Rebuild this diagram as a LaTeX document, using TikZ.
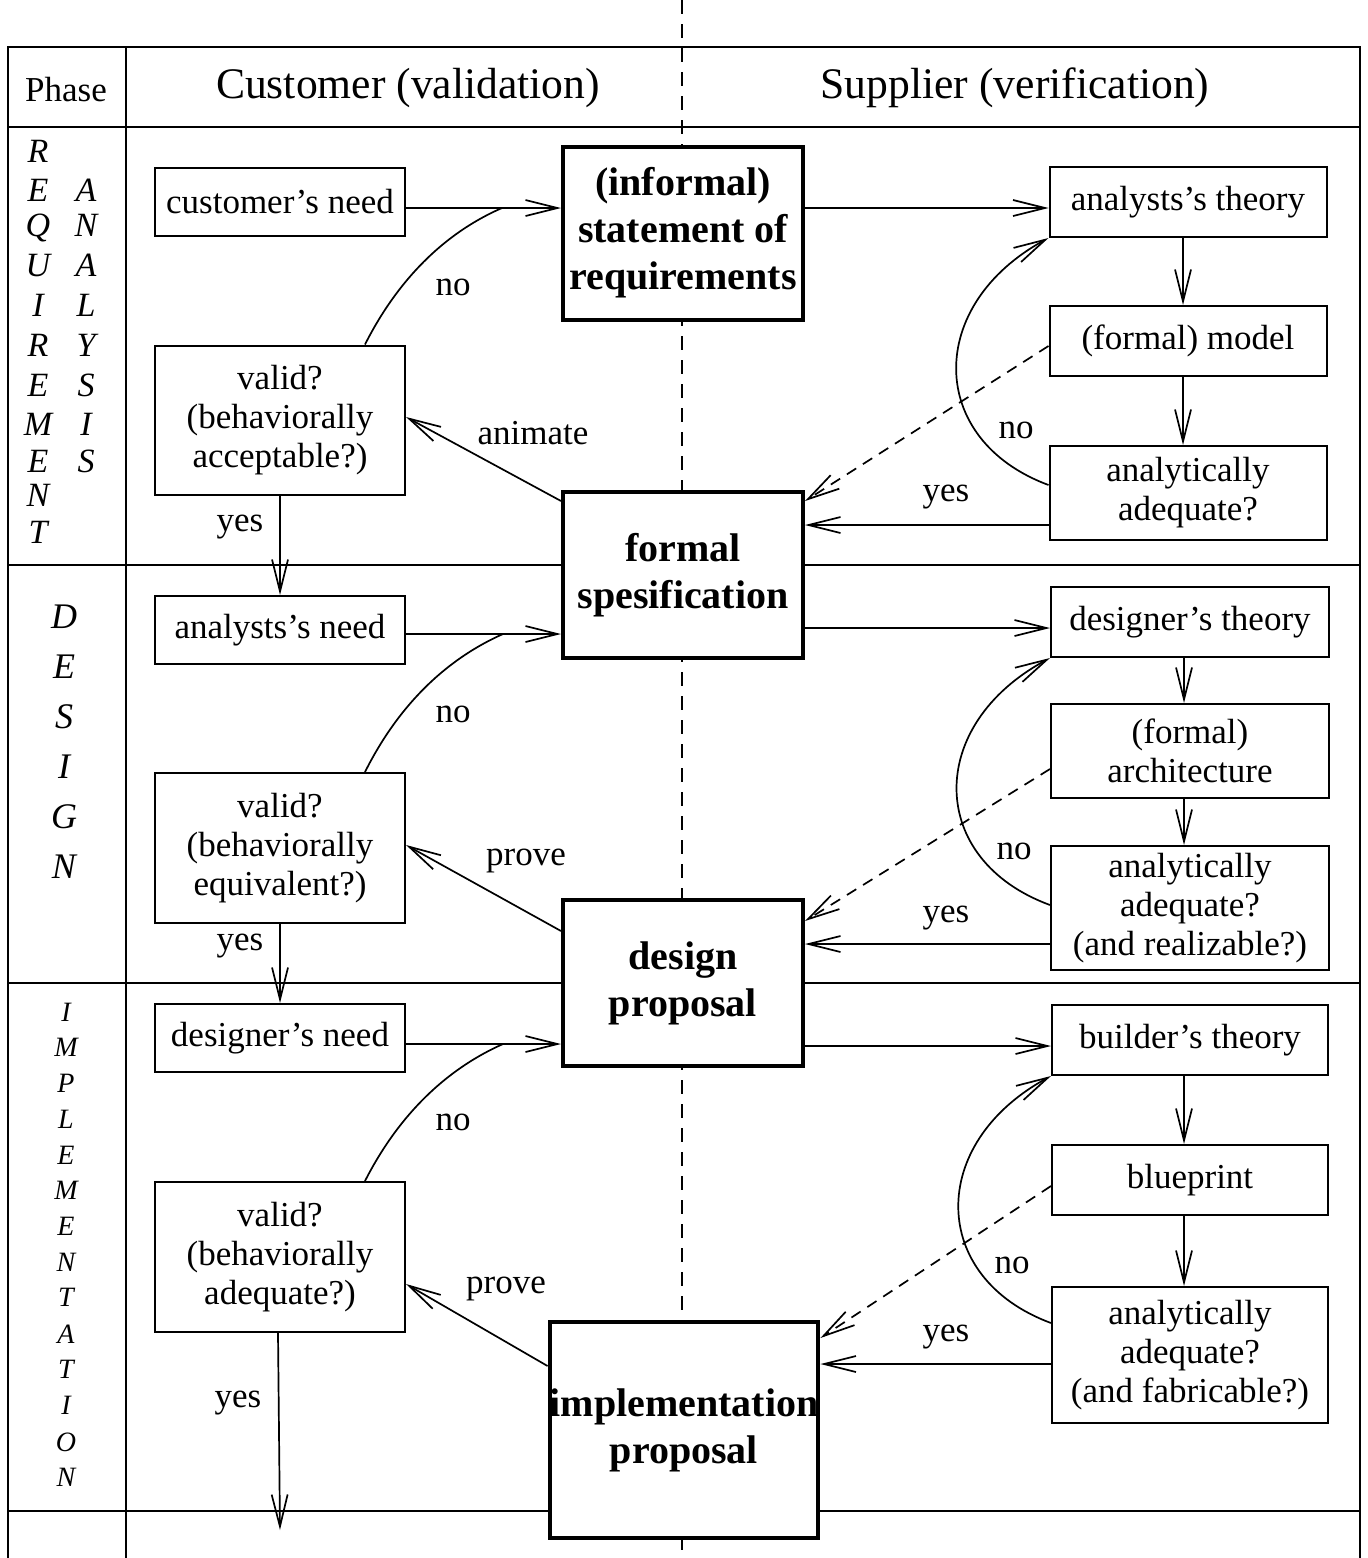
\documentclass[tikz,border=0pt]{standalone}
\usepackage{fontspec}
\setmainfont{Liberation Serif}
\usetikzlibrary{arrows.meta,calc}
\newcommand\fsN{\fontsize{17.5pt}{19.5pt}\selectfont}
\newcommand\fsH{\fontsize{21.8pt}{26pt}\selectfont}
\newcommand\fsB{\fontsize{20pt}{23.5pt}\selectfont\bfseries}
\begin{document}
\begin{tikzpicture}[x=0.5pt,y=-0.5pt,
  frame/.style={line width=1pt},
  vdash/.style={line width=0.75pt, dash pattern=on 7pt off 5pt},
  box/.style={draw, line width=1pt, fill=white, inner sep=0pt, align=center, font=\fsN},
  bigbox/.style={draw, line width=2pt, fill=white, inner sep=0pt, align=center, font=\fsB},
  conn/.style={line width=0.85pt},
  arr/.style={conn, -{Straight Barb[length=16pt,width=8pt]}},
  darr/.style={arr, dash pattern=on 5.5pt off 4pt},
  lab/.style={font=\fsN, inner sep=0pt},
  sideR/.style={font=\fontsize{17pt}{17pt}\selectfont\itshape, inner sep=0pt, text height=0.66em, text depth=0pt},
  sideD/.style={font=\fontsize{18pt}{18pt}\selectfont\itshape, inner sep=0pt, text height=0.66em, text depth=0pt},
  sideI/.style={font=\fontsize{14pt}{14pt}\selectfont\itshape, inner sep=0pt, text height=0.66em, text depth=0pt}]
\useasboundingbox (0,0) rectangle (1367,1558);
% frame and grid
\draw[frame] (8,1558) -- (8,47) -- (1360,47) -- (1360,1558);
\draw[frame] (126,47) -- (126,1558);
\foreach \y in {127,565,983,1511} \draw[frame] (8,\y) -- (1360,\y);
\draw[vdash] (682,0) -- (682,1558);
% headers
\node[font=\fsN] (phase) at (66,90) {Phase};
\node[font=\fsH] (cust) at (408,88) {Customer (validation)};
\node[font=\fsH] (supp) at (1015,88) {Supplier (verification)};
% side letters
\foreach \l/\y [count=\i] in {R/156,E/195,Q/230,U/270,I/310,R/350,E/390,M/429,E/466,N/500,T/537}
  \node[sideR] (rq\i) at (38,\y) {\l};
\foreach \l/\y [count=\i] in {A/195,N/230,A/270,L/310,Y/350,S/390,I/429,S/466}
  \node[sideR] (an\i) at (86,\y) {\l};
\foreach \l/\y [count=\i] in {D/622,E/672,S/722,I/772,G/822,N/872}
  \node[sideD] (de\i) at (64,\y) {\l};
\foreach \l/\y [count=\i] in {I/1015,M/1050,P/1086,L/1122,E/1158,M/1193,E/1229,N/1265,T/1300,A/1337,T/1372,I/1408,O/1445,N/1480}
  \node[sideI] (im\i) at (66,\y) {\l};
% ---------- requirements analysis ----------
\node[box, minimum width=125pt, minimum height=34pt] (cneed) at (280,202) {customer's need};
\node[bigbox, minimum width=120pt, minimum height=86.5pt] (stmt) at (683,233) {(informal)\\statement of\\requirements};
\node[box, minimum width=138.5pt, minimum height=35pt] (atheory) at (1188,202) {analysts's theory};
\node[box, minimum width=138.5pt, minimum height=35pt] (model) at (1188,341) {(formal) model};
\node[box, minimum width=138.5pt, minimum height=47pt] (aadeq) at (1188,493) {analytically\\adequate?};
\node[box, minimum width=125pt, minimum height=74.5pt] (valid1) at (280,420) {valid?\\(behaviorally\\acceptable?)};
\node[bigbox, minimum width=120pt, minimum height=83pt] (fspec) at (683,575) {formal\\spesification};
\coordinate (no1) at (502,208);
\draw[arr] ([yshift=-3pt]cneed.east) -- ([yshift=-3pt]cneed.east -| stmt.west);
\draw[conn] ([xshift=42.5pt]valid1.north) .. controls (395,285) and (440,235) .. (no1);
\node[lab] (lno1) at (453,287) {no};
\draw[arr] ([yshift=-3pt]atheory.west -| stmt.east) -- ([yshift=-3pt]atheory.west);
\draw[arr] ([xshift=-2.5pt]atheory.south) -- ([xshift=-2.5pt]atheory.south |- model.north);
\draw[arr] ([xshift=-2.5pt]model.south) -- ([xshift=-2.5pt]model.south |- aadeq.north);
\draw[arr] ([yshift=4pt]aadeq.west) .. controls (927,440) and (925,305) .. (atheory.south west);
\node[lab] (rno1) at (1016,430) {no};
\draw[darr] ([yshift=-2.5pt]model.west) -- ([yshift=-5.5pt]fspec.north east);
\draw[arr] ([yshift=-16pt]aadeq.west) -- ([yshift=-16pt]aadeq.west -| fspec.east);
\node[lab] (ryes1) at (946,497) {yes};
\draw[arr] ([yshift=-5.5pt]fspec.north west) -- ([yshift=1.5pt]valid1.east);
\node[lab] (anim) at (533,433) {animate};
% ---------- design ----------
\node[box, minimum width=125pt, minimum height=34pt] (aneed) at (280,630) {analysts's need};
\node[box, minimum width=139pt, minimum height=35pt] (dtheory) at (1190,622) {designer's theory};
\node[box, minimum width=139pt, minimum height=47pt] (arch) at (1190,751) {(formal)\\architecture};
\node[box, minimum width=139pt, minimum height=62pt] (dadeq) at (1190,908) {analytically\\adequate?\\(and realizable?)};
\node[box, minimum width=125pt, minimum height=75pt] (valid2) at (280,848) {valid?\\(behaviorally\\equivalent?)};
\node[bigbox, minimum width=120pt, minimum height=83pt] (dprop) at (683,983) {design\\proposal};
\draw[arr] (valid1.south) -- (valid1.south |- aneed.north);
\node[lab] (lyes1) at (240,527) {yes};
\coordinate (no2) at (503,634);
\draw[arr] ([yshift=-2pt]aneed.east) -- ([yshift=-2pt]aneed.east -| fspec.west);
\draw[conn] ([xshift=42.5pt]valid2.north) .. controls (395,712) and (440,662) .. (no2);
\node[lab] (lno2) at (453,714) {no};
\draw[arr] ([yshift=-3pt]dtheory.west -| fspec.east) -- ([yshift=-3pt]dtheory.west);
\draw[arr] ([xshift=-3pt]dtheory.south) -- ([xshift=-3pt]dtheory.south |- arch.north);
\draw[arr] ([xshift=-3pt]arch.south) -- ([xshift=-3pt]arch.south |- dadeq.north);
\draw[arr] ([yshift=1.5pt]dadeq.west) .. controls (927,860) and (925,725) .. (dtheory.south west);
\node[lab] (rno2) at (1014,851) {no};
\draw[darr] ([yshift=-9pt]arch.west) -- ([yshift=-11.5pt]dprop.north east);
\draw[arr] ([yshift=-18pt]dadeq.west) -- ([yshift=-18pt]dadeq.west -| dprop.east);
\node[lab] (ryes2) at (946,918) {yes};
\draw[arr] ([yshift=-16.5pt]dprop.north west) -- ([yshift=1.5pt]valid2.east);
\node[lab] (prove1) at (526,861) {prove};
% ---------- implementation ----------
\node[box, minimum width=125pt, minimum height=34pt] (dneed) at (280,1038) {designer's need};
\node[box, minimum width=138pt, minimum height=35pt] (btheory) at (1190,1040) {builder's theory};
\node[box, minimum width=138pt, minimum height=35pt] (blue) at (1190,1180) {blueprint};
\node[box, minimum width=138pt, minimum height=68pt] (badeq) at (1190,1355) {analytically\\adequate?\\(and fabricable?)};
\node[box, minimum width=125pt, minimum height=75pt] (valid3) at (280,1257) {valid?\\(behaviorally\\adequate?)};
\node[bigbox, minimum width=134pt, minimum height=108pt] (iprop) at (684,1430) {implementation\\proposal};
\draw[arr] (valid2.south) -- (valid2.south |- dneed.north);
\node[lab] (lyes2) at (240,946) {yes};
\coordinate (no3) at (503,1044);
\draw[arr] ([yshift=-3pt]dneed.east) -- ([yshift=-3pt]dneed.east -| dprop.west);
\draw[conn] ([xshift=42.5pt]valid3.north) .. controls (395,1122) and (440,1072) .. (no3);
\node[lab] (lno3) at (453,1122) {no};
\draw[arr] ([yshift=-3pt]btheory.west -| dprop.east) -- ([yshift=-3pt]btheory.west);
\draw[arr] ([xshift=-3pt]btheory.south) -- ([xshift=-3pt]btheory.south |- blue.north);
\draw[arr] ([xshift=-3pt]blue.south) -- ([xshift=-3pt]blue.south |- badeq.north);
\draw[arr] ([yshift=16pt]badeq.west) .. controls (929,1278) and (927,1143) .. (btheory.south west);
\node[lab] (rno3) at (1012,1265) {no};
\draw[darr] ([yshift=-3pt]blue.west) -- ([yshift=-9pt]iprop.north east);
\draw[arr] ([yshift=-4.5pt]badeq.west) -- ([yshift=-4.5pt]badeq.west -| iprop.east);
\node[lab] (ryes3) at (946,1337) {yes};
\draw[arr] ([yshift=-23pt]iprop.north west) -- ([yshift=-13.5pt]valid3.east);
\node[lab] (prove2) at (506,1289) {prove};
\coordinate (yesend) at (280,1530);
\draw[arr] ([xshift=-1pt]valid3.south) -- (yesend);
\node[lab] (lyes3) at (238,1403) {yes};
\end{tikzpicture}
\end{document}
